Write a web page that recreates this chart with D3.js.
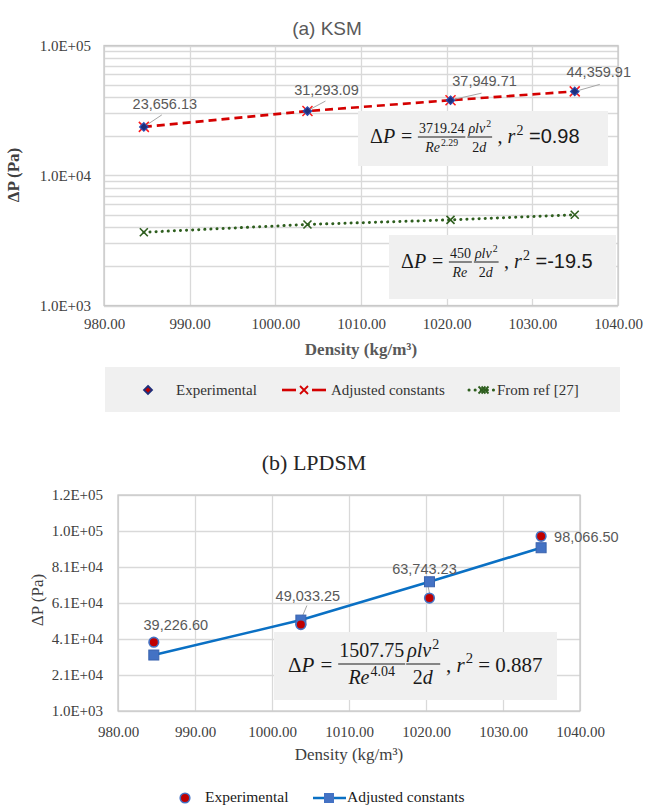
<!DOCTYPE html>
<html>
<head>
<meta charset="utf-8">
<script src="https://cdn.jsdelivr.net/npm/d3@7"></script>
<style>
  html, body { margin: 0; padding: 0; background: #fff; }
  svg { display: block; }
</style>
</head>
<body>
<script>
// ---------------- DATA ----------------
const densities = [984.65, 1003.75, 1020.45, 1034.95];
const ksmExperimental = [23656.13, 31293.09, 37949.71, 44359.91];
const ksmAdjusted = [23656.13, 31293.09, 37949.71, 44359.91];
const ksmFromRef = [3660, 4200, 4560, 4990];
const lpdsmExperimental = [39226.60, 49033.25, 63743.23, 98066.50];
const lpdsmAdjusted = [32100, 51500, 72800, 91700];
const xTickValues = [980, 990, 1000, 1010, 1020, 1030, 1040];
const ksmYTickValues = [1e3, 1e4, 1e5];
const lpdsmYTickValues = [1000, 21000, 41000, 61000, 81000, 101000, 121000];
const legendA = ["Experimental", "Adjusted constants", "From ref [27]"];
const legendB = ["Experimental", "Adjusted constants"];
const titleA = "(a) KSM";
const titleB = "(b) LPDSM";
const xTitle = "Density (kg/m³)";
const yTitle = "ΔP (Pa)";

// ---------------- STYLE ----------------
const SERIF = "'Liberation Serif','Times New Roman',serif";
const SANS = "'Liberation Sans',Arial,sans-serif";
const MATH = "'Liberation Serif','DejaVu Serif',serif";
const GRID = "#d9d9d9";
const TXT = "#404040";
const EQC = "#1a1a1a";

const fmtE = v => {
  const [m, e] = v.toExponential(1).split("e");
  const sign = e[0] === "-" ? "-" : "+";
  return `${m}E${sign}${String(Math.abs(+e)).padStart(2, "0")}`;
};
const fmtLabel = d3.format(",.2f");

const svg = d3.select("body").append("svg").attr("width", 645).attr("height", 806);
svg.append("rect").attr("width", 645).attr("height", 806).attr("fill", "#fff");

// ---------- helpers ----------
function drawRuns(g, list) {
  let cx = 0;
  list.forEach(r => {
    const t = g.append("text")
      .attr("x", cx)
      .attr("y", r.sup ? -r.size * 0.42 : 0)
      .attr("font-size", r.sup ? r.size * 0.7 : r.size)
      .attr("font-style", r.it ? "italic" : "normal")
      .attr("font-family", r.fam || MATH)
      .attr("fill", EQC)
      .style("white-space", "pre")
      .text(r.text);
    cx += t.node().getComputedTextLength() + (r.it ? 1 : 0);
  });
  return cx;
}
function drawEq(parent, x, y, items, fr) {
  const g = parent.append("g").attr("transform", `translate(${x},${y})`);
  let cx = 0;
  items.forEach(it => {
    if (it.frac) {
      const gn = g.append("g"), gd = g.append("g");
      const wn = drawRuns(gn, it.num), wd = drawRuns(gd, it.den);
      const w = Math.max(wn, wd) + 3;
      gn.attr("transform", `translate(${cx + (w - wn) / 2},${-fr.num})`);
      gd.attr("transform", `translate(${cx + (w - wd) / 2},${fr.den})`);
      g.append("line").attr("x1", cx + 0.5).attr("x2", cx + w - 0.5)
        .attr("y1", -fr.bar).attr("y2", -fr.bar)
        .attr("stroke", EQC).attr("stroke-width", 1);
      cx += w + (it.gap || 0);
    } else {
      const gg = g.append("g").attr("transform", `translate(${cx},0)`);
      cx += drawRuns(gg, [it]);
    }
  });
}
function xMark(g, cx, cy, r, color, w) {
  g.append("path").attr("d", `M${cx - r},${cy - r}L${cx + r},${cy + r}M${cx - r},${cy + r}L${cx + r},${cy - r}`)
    .attr("stroke", color).attr("stroke-width", w).attr("fill", "none");
}
function diamond(g, cx, cy, r) {
  return g.append("path").attr("d", `M${cx},${cy - r}L${cx + r},${cy}L${cx},${cy + r}L${cx - r},${cy}Z`);
}

// =============== CHART (a) KSM ===============
const pA = { l: 104, r: 618, t: 45.5, b: 305.5 };
const xA = d3.scaleLinear().domain([980, 1040]).range([pA.l, pA.r]);
const yA = d3.scaleLog().domain([1e3, 1e5]).range([pA.b, pA.t]);
const gA = svg.append("g");

const logGrid = [];
[1e3, 1e4].forEach(n => { for (let k = 1; k <= 9; k++) logGrid.push(k * n); });
logGrid.push(1e5);
gA.selectAll(".hg").data(logGrid).join("line")
  .attr("x1", pA.l).attr("x2", pA.r)
  .attr("y1", d => Math.round(yA(d)) + 0.5).attr("y2", d => Math.round(yA(d)) + 0.5)
  .attr("stroke", GRID).attr("stroke-width", 1.3);
gA.selectAll(".vg").data(xTickValues).join("line")
  .attr("x1", d => Math.round(xA(d)) + 0.5).attr("x2", d => Math.round(xA(d)) + 0.5)
  .attr("y1", pA.t).attr("y2", pA.b)
  .attr("stroke", GRID).attr("stroke-width", 1.3);
gA.append("rect").attr("x", pA.l).attr("y", pA.t).attr("width", pA.r - pA.l).attr("height", pA.b - pA.t)
  .attr("fill", "none").attr("stroke", "#c9c9c9").attr("stroke-width", 1.3);

const axA_y = gA.append("g").attr("transform", `translate(${pA.l},0)`)
  .call(d3.axisLeft(yA).tickValues(ksmYTickValues).tickFormat(fmtE).tickSize(0).tickPadding(13));
const axA_x = gA.append("g").attr("transform", `translate(0,${pA.b})`)
  .call(d3.axisBottom(xA).tickValues(xTickValues).tickFormat(d3.format(".2f")).tickSize(0).tickPadding(13));
[axA_y, axA_x].forEach(a => {
  a.select(".domain").remove();
  a.selectAll("text").attr("font-family", SERIF).attr("font-size", 15).attr("fill", TXT);
});

gA.append("text").attr("x", 327).attr("y", 35).attr("text-anchor", "middle")
  .attr("font-family", SANS).attr("font-size", 19).attr("fill", "#595959").text(titleA);
gA.append("text").attr("x", (pA.l + pA.r) / 2).attr("y", 355).attr("text-anchor", "middle")
  .attr("font-family", SERIF).attr("font-size", 17).attr("font-weight", "bold").attr("fill", "#595959").text(xTitle);
gA.append("text").attr("transform", `translate(19,175) rotate(-90)`).attr("text-anchor", "middle")
  .attr("font-family", SERIF).attr("font-size", 17).attr("font-weight", "bold").attr("fill", "#404040").text(yTitle);

gA.append("rect").attr("x", 358).attr("y", 111).attr("width", 250).attr("height", 55).attr("fill", "#f0f0f0");
gA.append("rect").attr("x", 389).attr("y", 235).attr("width", 227).attr("height", 64).attr("fill", "#f0f0f0");

const frA = { num: 10, den: 9, bar: 6 };
drawEq(gA, 370, 143, [
  { text: "Δ", size: 20 }, { text: "P", size: 20, it: true }, { text: " = ", size: 20 },
  { frac: true, num: [{ text: "3719.24", size: 14 }], den: [{ text: "Re", size: 14, it: true }, { text: "2.29", size: 14, sup: true }], gap: 1 },
  { frac: true, num: [{ text: "ρlv", size: 14, it: true }, { text: "2", size: 14, sup: true }], den: [{ text: "2", size: 14 }, { text: "d", size: 14, it: true }] },
  { text: " , ", size: 20 }, { text: "r", size: 20, it: true }, { text: "2", size: 20, sup: true },
  { text: " =0.98", size: 20, fam: SANS }
], frA);
drawEq(gA, 401, 268, [
  { text: "Δ", size: 20 }, { text: "P", size: 20, it: true }, { text: " = ", size: 20 },
  { frac: true, num: [{ text: "450", size: 14 }], den: [{ text: "Re", size: 14, it: true }], gap: 1 },
  { frac: true, num: [{ text: "ρlv", size: 14, it: true }, { text: "2", size: 14, sup: true }], den: [{ text: "2", size: 14 }, { text: "d", size: 14, it: true }] },
  { text: " , ", size: 20 }, { text: "r", size: 20, it: true }, { text: "2", size: 20, sup: true },
  { text: " =-19.5", size: 20, fam: SANS }
], frA);

const ptsAdj = densities.map((d, i) => [xA(d), yA(ksmAdjusted[i])]);
const ptsRef = densities.map((d, i) => [xA(d), yA(ksmFromRef[i])]);
const ptsExp = densities.map((d, i) => [xA(d), yA(ksmExperimental[i])]);
gA.append("path").attr("d", d3.line()(ptsRef)).attr("fill", "none")
  .attr("stroke", "#2e5e1e").attr("stroke-width", 3).attr("stroke-linecap", "round").attr("stroke-dasharray", "0.1,6");
gA.append("path").attr("d", d3.line()(ptsAdj)).attr("fill", "none")
  .attr("stroke", "#d40000").attr("stroke-width", 2.6).attr("stroke-dasharray", "8,5");

ptsRef.forEach(p => xMark(gA, p[0], p[1], 4, "#2e5e1e", 1.6));
ptsAdj.forEach(p => xMark(gA, p[0], p[1], 5, "#ff1a1a", 1.5));
ptsExp.forEach(p => diamond(gA, p[0], p[1], 4.2).attr("fill", "#1f2f7a").attr("stroke", "#2a4bb0").attr("stroke-width", 1.2));

const labOffA = [[21, -18], [19, -16], [34, -14], [24, -14]];
const leadA = [[18, -12, 3, -2], [18, -10, 3, -2], [31, -7, 4, -1], [25, -7, 4, -1]];
ptsExp.forEach((p, i) => {
  gA.append("line").attr("x1", p[0] + leadA[i][0]).attr("y1", p[1] + leadA[i][1])
    .attr("x2", p[0] + leadA[i][2]).attr("y2", p[1] + leadA[i][3])
    .attr("stroke", "#a6a6a6").attr("stroke-width", 1);
  gA.append("text").attr("x", p[0] + labOffA[i][0]).attr("y", p[1] + labOffA[i][1])
    .attr("text-anchor", "middle").attr("font-family", SANS).attr("font-size", 14.5).attr("fill", "#595959")
    .text(fmtLabel(ksmExperimental[i]));
});

const lgA = gA.append("g");
lgA.append("rect").attr("x", 105).attr("y", 367).attr("width", 515).attr("height", 45).attr("fill", "#f0f0f0");
diamond(lgA, 148, 390, 4).attr("fill", "#c00000").attr("stroke", "#1f2f7a").attr("stroke-width", 1.8);
lgA.append("line").attr("x1", 282).attr("x2", 296).attr("y1", 390).attr("y2", 390).attr("stroke", "#d40000").attr("stroke-width", 2.6);
lgA.append("line").attr("x1", 312).attr("x2", 326).attr("y1", 390).attr("y2", 390).attr("stroke", "#d40000").attr("stroke-width", 2.6);
xMark(lgA, 304, 390, 4, "#d40000", 1.8);
lgA.append("line").attr("x1", 469).attr("x2", 495).attr("y1", 390).attr("y2", 390)
  .attr("stroke", "#2e5e1e").attr("stroke-width", 3).attr("stroke-linecap", "round").attr("stroke-dasharray", "0.1,6");
xMark(lgA, 482, 390, 3.5, "#2e5e1e", 1.8);
xMark(lgA, 485, 390, 3.5, "#2e5e1e", 1.8);
[[176, 0], [331, 1], [497, 2]].forEach(([x, i]) => lgA.append("text").attr("x", x).attr("y", 395)
  .attr("font-family", SERIF).attr("font-size", 15).attr("fill", "#333").text(legendA[i]));

// =============== CHART (b) LPDSM ===============
const pB = { l: 118, r: 580, t: 495, b: 711 };
const xB = d3.scaleLinear().domain([980, 1040]).range([pB.l, pB.r]);
const yB = d3.scaleLinear().domain([1000, 121000]).range([pB.b, pB.t]);
const gB = svg.append("g");

gB.selectAll(".hg").data(lpdsmYTickValues).join("line")
  .attr("x1", pB.l).attr("x2", pB.r)
  .attr("y1", d => Math.round(yB(d)) + 0.5).attr("y2", d => Math.round(yB(d)) + 0.5)
  .attr("stroke", GRID).attr("stroke-width", 1.3);
gB.selectAll(".vg").data(xTickValues).join("line")
  .attr("x1", d => Math.round(xB(d)) + 0.5).attr("x2", d => Math.round(xB(d)) + 0.5)
  .attr("y1", pB.t).attr("y2", pB.b)
  .attr("stroke", GRID).attr("stroke-width", 1.3);
gB.append("rect").attr("x", pB.l).attr("y", pB.t).attr("width", pB.r - pB.l).attr("height", pB.b - pB.t)
  .attr("fill", "none").attr("stroke", "#c9c9c9").attr("stroke-width", 1.3);

const axB_y = gB.append("g").attr("transform", `translate(${pB.l},0)`)
  .call(d3.axisLeft(yB).tickValues(lpdsmYTickValues).tickFormat(fmtE).tickSize(0).tickPadding(15));
const axB_x = gB.append("g").attr("transform", `translate(0,${pB.b})`)
  .call(d3.axisBottom(xB).tickValues(xTickValues).tickFormat(d3.format(".2f")).tickSize(0).tickPadding(15));
[axB_y, axB_x].forEach(a => {
  a.select(".domain").remove();
  a.selectAll("text").attr("font-family", SERIF).attr("font-size", 15).attr("fill", TXT);
});

gB.append("text").attr("x", 314).attr("y", 470).attr("text-anchor", "middle")
  .attr("font-family", SERIF).attr("font-size", 22).attr("fill", "#262626").text(titleB);
gB.append("text").attr("x", (pB.l + pB.r) / 2).attr("y", 760).attr("text-anchor", "middle")
  .attr("font-family", SERIF).attr("font-size", 17).attr("fill", "#404040").text(xTitle);
gB.append("text").attr("transform", `translate(43,600) rotate(-90)`).attr("text-anchor", "middle")
  .attr("font-family", SERIF).attr("font-size", 17).attr("fill", "#404040").text(yTitle);

gB.append("rect").attr("x", 274).attr("y", 632).attr("width", 283).attr("height", 68).attr("fill", "#f0f0f0");
drawEq(gB, 288, 672, [
  { text: "Δ", size: 21 }, { text: "P", size: 21, it: true }, { text: " = ", size: 21 },
  { frac: true, num: [{ text: "1507.75", size: 20 }], den: [{ text: "Re", size: 20, it: true }, { text: "4.04", size: 20, sup: true }] },
  { frac: true, num: [{ text: "ρlv", size: 20, it: true }, { text: "2", size: 20, sup: true }], den: [{ text: "2", size: 20 }, { text: "d", size: 20, it: true }] },
  { text: " , ", size: 21 }, { text: "r", size: 21, it: true }, { text: "2", size: 21, sup: true },
  { text: " = 0.887", size: 21 }
], { num: 15, den: 12, bar: 8 });

const ptsBAdj = densities.map((d, i) => [xB(d), yB(lpdsmAdjusted[i])]);
const ptsBExp = densities.map((d, i) => [xB(d), yB(lpdsmExperimental[i])]);

const labOffB = [[22, -12, "middle"], [7, -24, "middle"], [-5, -24, "middle"], [13, 5.5, "start"]];
const leadB = [null, [6, -19, 1, -7], [-3, -20, 0, -5], null];
ptsBExp.forEach((p, i) => {
  if (leadB[i]) gB.append("line").attr("x1", p[0] + leadB[i][0]).attr("y1", p[1] + leadB[i][1])
    .attr("x2", p[0] + leadB[i][2]).attr("y2", p[1] + leadB[i][3])
    .attr("stroke", "#a6a6a6").attr("stroke-width", 1);
});

gB.append("path").attr("d", d3.line()(ptsBAdj)).attr("fill", "none")
  .attr("stroke", "#0a70c4").attr("stroke-width", 2.6);
ptsBAdj.forEach(p => gB.append("rect").attr("x", p[0] - 5).attr("y", p[1] - 5).attr("width", 10).attr("height", 10)
  .attr("fill", "#4472c4").attr("stroke", "#3a63ad").attr("stroke-width", 1));
ptsBExp.forEach(p => gB.append("circle").attr("cx", p[0]).attr("cy", p[1]).attr("r", 4.8)
  .attr("fill", "#c00000").attr("stroke", "#4472c4").attr("stroke-width", 1.6));

ptsBExp.forEach((p, i) => {
  gB.append("text").attr("x", p[0] + labOffB[i][0]).attr("y", p[1] + labOffB[i][1])
    .attr("text-anchor", labOffB[i][2]).attr("font-family", SANS).attr("font-size", 14.5).attr("fill", "#595959")
    .text(fmtLabel(lpdsmExperimental[i]));
});

const lgB = gB.append("g");
lgB.append("circle").attr("cx", 185).attr("cy", 798).attr("r", 4.8)
  .attr("fill", "#c00000").attr("stroke", "#4472c4").attr("stroke-width", 1.6);
lgB.append("line").attr("x1", 313).attr("x2", 346).attr("y1", 798).attr("y2", 798).attr("stroke", "#0a70c4").attr("stroke-width", 2.6);
lgB.append("rect").attr("x", 324).attr("y", 793).attr("width", 10).attr("height", 10).attr("fill", "#4472c4");
[[205, 0], [347, 1]].forEach(([x, i]) => lgB.append("text").attr("x", x).attr("y", 802)
  .attr("font-family", SERIF).attr("font-size", 15.5).attr("fill", "#1a1a1a").text(legendB[i]));
</script>
</body>
</html>
